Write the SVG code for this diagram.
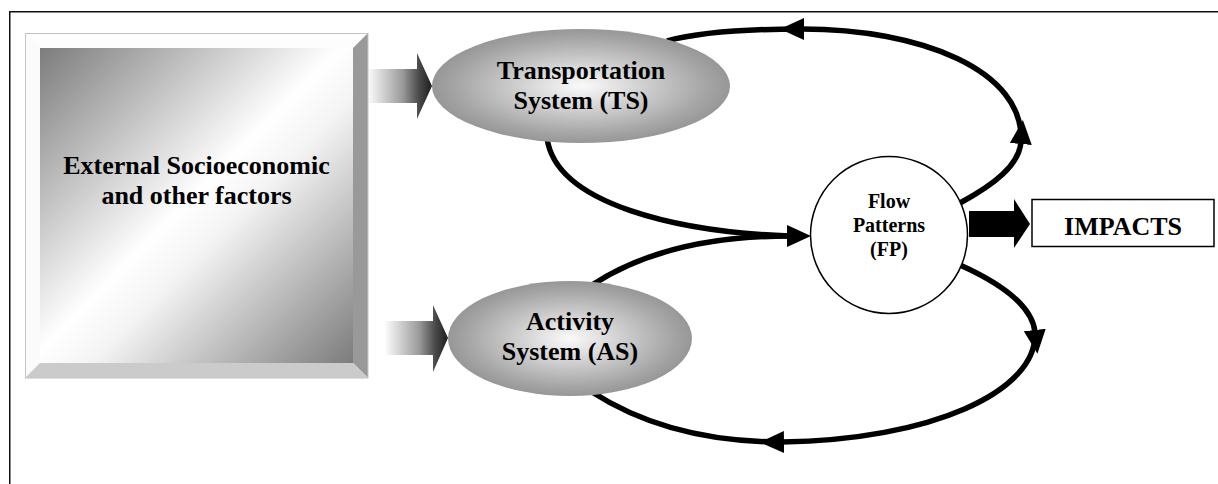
<svg xmlns="http://www.w3.org/2000/svg" width="1218" height="484" viewBox="0 0 1218 484">
<style>
text{font-family:"Liberation Serif","Times New Roman",serif;font-weight:bold;fill:#000;text-anchor:middle}
.big{font-size:26px}
.small{font-size:20px}
.curve{fill:none;stroke:#000;stroke-width:5.5}
.arr{marker-end:url(#ah)}
</style>
<defs>
<linearGradient id="face" x1="0" y1="0" x2="1" y2="1">
<stop offset="0" stop-color="#7c7c7c"/>
<stop offset="0.48" stop-color="#ffffff"/>
<stop offset="0.58" stop-color="#f4f4f4"/>
<stop offset="1" stop-color="#7c7c7c"/>
</linearGradient>
<radialGradient id="ell" cx="0.5" cy="0.5" r="0.5">
<stop offset="0" stop-color="#fafafa"/>
<stop offset="0.85" stop-color="#a4a4a4"/>
<stop offset="1" stop-color="#979797"/>
</radialGradient>
<linearGradient id="blk" x1="0" y1="0" x2="1" y2="0">
<stop offset="0" stop-color="#ffffff"/>
<stop offset="0.55" stop-color="#9a9a9a"/>
<stop offset="0.8" stop-color="#4a4a4a"/>
<stop offset="1" stop-color="#1e1e1e"/>
</linearGradient>
<marker id="ah" viewBox="0 0 24 22" refX="2" refY="11" markerWidth="24" markerHeight="22" markerUnits="userSpaceOnUse" orient="auto">
<path d="M0,0 L24,11 L0,22 z" fill="#000"/>
</marker>
</defs>
<rect width="1218" height="484" fill="#fff"/>
<g id="frame">
<rect x="9.75" y="11.75" width="1230" height="490" fill="none" stroke="#111" stroke-width="1.5"/>
</g>
<g id="connectors">
<polygon points="367,69 417,69 417,53 432,86 417,119 417,103 367,103" fill="url(#blk)"/>
<polygon points="384,321 433,321 433,305 448,338 433,372 433,355 384,355" fill="url(#blk)"/>
<polygon points="969,211 1014,211 1014,199 1030,224 1014,248 1014,237 969,237" fill="#000"/>
<path class="curve arr" d="M960,203 C995,184 1019,165 1021,142"/>
<path class="curve arr" d="M1021,142 C1025,70 920,29 802,29"/>
<path class="curve" d="M802,29 C750,29 700,32 667,41"/>
<path class="curve" d="M547,138 C556,205 680,232 789,236"/>
<path class="curve arr" d="M592,285 C650,247 720,236 789,236"/>
<path class="curve arr" d="M960,265 C1000,283 1032,305 1035,332"/>
<path class="curve arr" d="M1035,332 C1038,392 930,440 782,442"/>
<path class="curve" d="M782,442 C700,442 640,423 592,392"/>
</g>
<g id="node-external">
<rect x="40" y="48" width="313" height="315" fill="url(#face)"/>
<polygon points="25,33 368,33 353,48 40,48" fill="#fdfdfd"/>
<polygon points="25,33 40,48 40,363 25,378" fill="#fbfbfb"/>
<polygon points="353,48 368,33 368,378 353,363" fill="#999"/>
<polygon points="25,378 40,363 353,363 368,378" fill="#cbcbcb"/>
<rect x="25.5" y="33.5" width="342.5" height="344.5" fill="none" stroke="#c4c4c4" stroke-width="1"/>
<text class="big" x="196.5" y="174">External Socioeconomic</text>
<text class="big" x="196.5" y="204">and other factors</text>
</g>
<g id="node-ts">
<ellipse cx="581" cy="86" rx="149" ry="57" fill="url(#ell)"/>
<text class="big" x="581" y="78.5">Transportation</text>
<text class="big" x="581" y="108.5">System (TS)</text>
</g>
<g id="node-as">
<ellipse cx="570" cy="338.5" rx="122" ry="57.5" fill="url(#ell)"/>
<text class="big" x="570" y="329.5">Activity</text>
<text class="big" x="570" y="359.5">System (AS)</text>
</g>
<g id="node-fp">
<circle cx="889" cy="235" r="78.5" fill="#fff" stroke="#000" stroke-width="1.5"/>
<text class="small" x="889" y="208">Flow</text>
<text class="small" x="889" y="232">Patterns</text>
<text class="small" x="889" y="255.5">(FP)</text>
</g>
<g id="node-impacts">
<rect x="1032" y="199.5" width="182" height="47" fill="#fff" stroke="#000" stroke-width="1.5"/>
<text class="big" x="1123" y="235">IMPACTS</text>
</g>
</svg>
